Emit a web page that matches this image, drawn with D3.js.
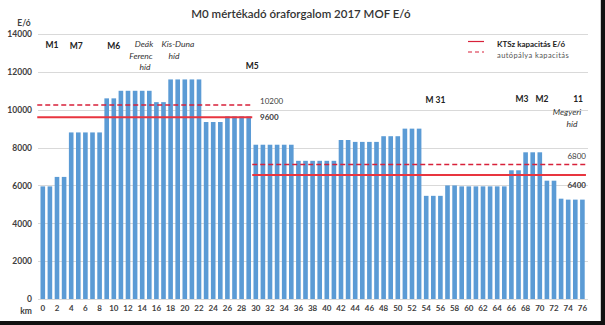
<!DOCTYPE html>
<html><head><meta charset="utf-8">
<script src="https://cdn.jsdelivr.net/npm/d3@7"></script>
<style>body{margin:0;background:#fff}svg{display:block;font-family:Lato,"Liberation Sans",sans-serif}</style>
</head><body><svg id="c" width="605" height="325"></svg>
<script>
const title = "M0 mértékadó óraforgalom 2017 MOF E/ó";
const km = [0,1,2,3,4,5,6,7,8,9,10,11,12,13,14,15,16,17,18,19,20,21,22,23,24,25,26,27,28,29,30,31,32,33,34,35,36,37,38,39,40,41,42,43,44,45,46,47,48,49,50,51,52,53,54,55,56,57,58,59,60,61,62,63,64,65,66,67,68,69,70,71,72,73,74,75,76];
const traffic = [5950,5950,6450,6450,8800,8800,8800,8800,8800,10600,10600,11000,11000,11000,11000,11000,10400,10400,11600,11600,11600,11600,11600,9350,9350,9350,9650,9650,9650,9650,
  8150,8150,8150,8150,8150,8150,7300,7300,7300,7300,7300,7300,8400,8400,8300,8300,8300,8300,8600,8600,8600,9000,9000,9000,
  5450,5450,5450,6000,6000,5950,5950,5950,5950,5950,5950,5950,6800,6800,7750,7750,7750,6250,6250,5300,5250,5250,5250];
const yTicks = [0,2000,4000,6000,8000,10000,12000,14000];
const xTickLabels = [0,2,4,6,8,10,12,14,16,18,20,22,24,26,28,30,32,34,36,38,40,42,44,46,48,50,52,54,56,58,60,62,64,66,68,70,72,74,76];
// capacity segments: start km, end km, KTSz capacity, motorway capacity
const segStart = [0, 30];
const segEnd = [29, 76];
const ktszCap = [9600, 6550];
const autopalyaCap = [10250, 7100];
const autopalyaLabel = ["10200", "6800"];
const ktszLabel = ["9600", "6400"];
const junctionNames = ["M1","M7","M6","M5","M 31","M3","M2","11"];
const junctionKm = [1.3, 4.7, 10, 29.5, 55.3, 67.5, 70.3, 75.4];
const bridgeLines = ["Deák","Ferenc","híd","Kis-Duna","híd","Megyeri","híd"];
const legendLabels = ["KTSz kapacitás E/ó", "autópálya kapacitás"];

const svg = d3.select("#c");
const x = d3.scaleBand().domain(km).range([39.25, 585.95]).paddingInner(0.35).paddingOuter(0.175);
const xc = k => x(0) + x.bandwidth()/2 + k * x.step();
const y = d3.scaleLinear().domain([0, 14000]).range([299, 34]);
const red = "#e8353f", red2 = "#d8213a", txt = "#404040";

// frame shadow
svg.append("rect").attr("x",0).attr("y",321).attr("width",605).attr("height",4).attr("fill","#111");
svg.append("rect").attr("x",601).attr("y",0).attr("width",4).attr("height",325).attr("fill","#111");
svg.append("line").attr("x1",600.5).attr("x2",600.5).attr("y1",0).attr("y2",321).attr("stroke","#d0d0d0");

// gridlines
svg.append("g").selectAll("line").data(yTicks).join("line")
  .attr("x1",38).attr("x2",588).attr("y1",d=>Math.round(y(d))+0.5).attr("y2",d=>Math.round(y(d))+0.5)
  .attr("stroke","#d9d9d9").attr("stroke-width",1);

// y axis labels
const yAxis = d3.axisLeft(y).tickValues(yTicks).tickSize(0).tickPadding(0).tickFormat(d3.format("d"));
const ga = svg.append("g").attr("transform","translate(32,0)").call(yAxis);
ga.select(".domain").remove();
ga.selectAll("text").attr("font-size",8.5).attr("font-weight","bold").attr("fill",txt).attr("font-family","Lato,sans-serif");

svg.append("text").attr("x",24).attr("y",26).attr("text-anchor","middle").attr("font-size",8.5).attr("font-weight","bold").attr("fill",txt).text("E/ó");

// bars
svg.append("g").selectAll("rect").data(km).join("rect")
  .attr("x",d=>x(d)).attr("width",x.bandwidth())
  .attr("y",(d,i)=>y(traffic[i])).attr("height",(d,i)=>y(0)-y(traffic[i]))
  .attr("fill","#5b9bd5");

// x axis
const xAxis = d3.axisBottom(x).tickValues(xTickLabels).tickSize(0).tickPadding(0);
const gx = svg.append("g").attr("transform","translate(0,305)").call(xAxis);
gx.select(".domain").remove();
gx.selectAll("text").attr("font-size",8).attr("font-weight","bold").attr("fill",txt).attr("font-family","Lato,sans-serif");
svg.append("text").attr("x",26).attr("y",314).attr("text-anchor","middle").attr("font-size",8.5).attr("font-weight","bold").attr("fill",txt).text("km");

// capacity lines
const step = x.step();
segStart.forEach((s,i)=>{
  const x1 = x(s) - step*0.35/2 - (i===0?2:0), x2 = x(segEnd[i]) + x.bandwidth() + step*0.35/2;
  svg.append("line").attr("x1",x1).attr("x2",x2).attr("y1",y(ktszCap[i])).attr("y2",y(ktszCap[i]))
    .attr("stroke",red).attr("stroke-width",2);
  svg.append("line").attr("x1",x1).attr("x2",x2).attr("y1",y(autopalyaCap[i])).attr("y2",y(autopalyaCap[i]))
    .attr("stroke",red2).attr("stroke-width",1.5).attr("stroke-dasharray","5,3");
});
// capacity labels
svg.append("text").attr("x",260).attr("y",104).attr("font-size",8).attr("fill",txt).text(autopalyaLabel[0]);
svg.append("text").attr("x",260).attr("y",120).attr("font-size",8).attr("font-weight","bold").attr("fill",txt).text(ktszLabel[0]);
svg.append("text").attr("x",586).attr("y",159).attr("text-anchor","end").attr("font-size",8).attr("fill",txt).text(autopalyaLabel[1]);
svg.append("text").attr("x",586).attr("y",188).attr("text-anchor","end").attr("font-size",8).attr("font-weight","bold").attr("fill",txt).text(ktszLabel[1]);

// title
svg.append("text").attr("x",301).attr("y",18).attr("text-anchor","middle").attr("font-size",11.5).attr("font-weight",600).attr("fill","#333").text(title);

// junction labels
const junctionY = [48,49,49,69,103,102,102,102];
svg.append("g").selectAll("text").data(junctionNames).join("text")
  .attr("x",(d,i)=>xc(junctionKm[i])).attr("y",(d,i)=>junctionY[i]).attr("text-anchor","middle")
  .attr("font-size",8.5).attr("font-weight","bold").attr("fill","#222").text(d=>d);

// bridge names
const bridgeX = [144,141,145,178,174,567,572];
const bridgeY = [47,59,70,47,59,115,127];
svg.append("g").selectAll("text").data(bridgeLines).join("text")
  .attr("x",(d,i)=>bridgeX[i]).attr("y",(d,i)=>bridgeY[i]).attr("text-anchor","middle")
  .attr("font-size",8.5).attr("font-style","italic").attr("fill","#333").text(d=>d);

// legend
svg.append("line").attr("x1",468).attr("x2",484).attr("y1",41.5).attr("y2",41.5).attr("stroke",red2).attr("stroke-width",1.2);
svg.append("line").attr("x1",468).attr("x2",484).attr("y1",52).attr("y2",52).attr("stroke",red2).attr("stroke-width",1.2).attr("stroke-dasharray","4,3");
svg.append("text").attr("x",497).attr("y",47).attr("font-size",8).attr("font-weight","bold").attr("fill","#222").text(legendLabels[0]);
svg.append("text").attr("x",497).attr("y",58).attr("font-size",7.5).attr("letter-spacing",0.4).attr("fill","#555").text(legendLabels[1]);
</script></body></html>
